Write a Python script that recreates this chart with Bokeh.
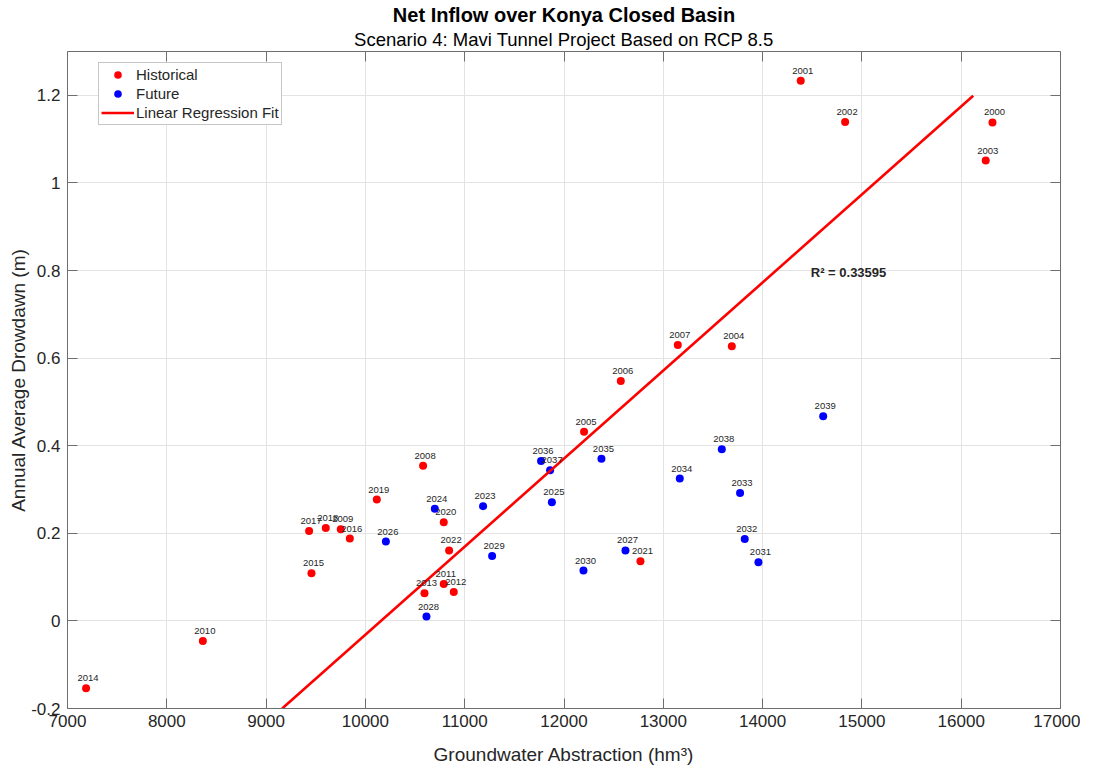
from bokeh.plotting import figure
from bokeh.models import (ColumnDataSource, FixedTicker, CustomJSTickFormatter, LinearAxis,
                          Title, Legend, LegendItem, Range1d, Label)
from bokeh.embed import file_html
from bokeh.resources import INLINE
from bokeh.core.properties import value

# ---------------- data ----------------
hist_years = ["2000", "2001", "2002", "2003", "2004", "2005", "2006", "2007", "2008", "2009",
              "2010", "2011", "2012", "2013", "2014", "2015", "2016", "2017", "2018", "2019",
              "2020", "2021", "2022"]
hist_x = [16315, 14384, 14831, 16247, 13690, 12202, 12572, 13146, 10581, 9752,
          8363, 10789, 10890, 10595, 7187, 9457, 9843, 9433, 9601, 10115,
          10789, 12770, 10843]
hist_y = [1.138, 1.233, 1.139, 1.051, 0.627, 0.432, 0.548, 0.630, 0.354, 0.209,
          -0.046, 0.084, 0.066, 0.063, -0.154, 0.109, 0.188, 0.205, 0.212, 0.277,
          0.225, 0.136, 0.161]

fut_years = ["2023", "2024", "2025", "2026", "2027", "2028", "2029", "2030", "2031", "2032",
             "2033", "2034", "2035", "2036", "2037", "2038", "2039"]
fut_x = [11185, 10699, 11878, 10206, 12619, 10615, 11276, 12196, 13958, 13820,
         13773, 13166, 12377, 11769, 11860, 13589, 14610]
fut_y = [0.262, 0.256, 0.271, 0.181, 0.161, 0.010, 0.148, 0.115, 0.134, 0.187,
         0.292, 0.325, 0.370, 0.365, 0.344, 0.392, 0.467]

fit_x = [9162, 16121]
fit_y = [-0.2, 1.199]

r2_text = "R\u00b2 = 0.33595"
r2_pos = (14485, 0.795)

x_ticks = [7000, 8000, 9000, 10000, 11000, 12000, 13000, 14000, 15000, 16000, 17000]
y_ticks = [-0.2, 0, 0.2, 0.4, 0.6, 0.8, 1, 1.2]

title_main = "Net Inflow over Konya Closed Basin"
title_sub = "Scenario 4: Mavi Tunnel Project Based on RCP 8.5"
x_label = "Groundwater Abstraction (hm\u00b3)"
y_label = "Annual Average Drowdawn (m)"

# ---------------- styling ----------------
FONT = "Liberation Sans"
TXT = "#262626"
AXC = "#6e6e6e"

p = figure(frame_width=993, frame_height=657, output_backend="svg", toolbar_location=None,
           x_range=Range1d(7000, 17000), y_range=Range1d(-0.2, 1.3),
           min_border_left=67, min_border_right=20, min_border_top=51, min_border_bottom=0,
           background_fill_color="white", border_fill_color="white")
p.outline_line_color = None

fmt = CustomJSTickFormatter(code="return tick.toString();")

for ax in (p.xaxis[0], p.yaxis[0]):
    ax.major_label_text_font = FONT
    ax.major_label_text_font_size = "17px"
    ax.major_label_text_color = TXT
    ax.axis_label_text_font = FONT
    ax.axis_label_text_font_size = "19px"
    ax.axis_label_text_font_style = "normal"
    ax.axis_label_text_color = TXT
    ax.axis_line_color = AXC
    ax.major_tick_line_color = AXC
    ax.major_tick_in = 10
    ax.major_tick_out = 0
    ax.minor_tick_line_color = None
    ax.formatter = fmt

p.xaxis[0].ticker = FixedTicker(ticks=x_ticks)
p.yaxis[0].ticker = FixedTicker(ticks=y_ticks)
p.xaxis[0].axis_label = x_label
p.yaxis[0].axis_label = y_label
p.xaxis[0].major_label_standoff = 6
p.xaxis[0].axis_label_standoff = 14
p.yaxis[0].major_label_standoff = 7
p.yaxis[0].axis_label_standoff = -1

for side, tk in (("right", y_ticks), ("above", x_ticks)):
    ax = LinearAxis(ticker=FixedTicker(ticks=tk), formatter=fmt)
    ax.major_label_text_font_size = "0px"
    ax.major_label_standoff = 0
    ax.axis_line_color = AXC
    ax.major_tick_line_color = AXC
    ax.major_tick_in = 10
    ax.major_tick_out = 0
    ax.minor_tick_line_color = None
    p.add_layout(ax, side)

p.xgrid.ticker = FixedTicker(ticks=x_ticks)
p.ygrid.ticker = FixedTicker(ticks=y_ticks)
p.xgrid.grid_line_color = "#e3e3e3"
p.ygrid.grid_line_color = "#e3e3e3"

p.title.text = title_main
p.title.text_font = FONT
p.title.text_font_size = "20px"
p.title.text_font_style = "bold"
p.title.text_color = "black"
p.title.align = "center"
p.title.standoff = 0
p.add_layout(Title(text=title_sub, text_font=FONT, text_font_size="18.5px",
                   text_font_style="normal", text_color="black", align="center",
                   standoff=3), "above")

src_h = ColumnDataSource(dict(x=hist_x, y=hist_y, year=hist_years))
src_f = ColumnDataSource(dict(x=fut_x, y=fut_y, year=fut_years))

r_h = p.scatter("x", "y", source=src_h, size=8, color="#ff0000", line_color=None)
r_f = p.scatter("x", "y", source=src_f, size=8, color="#0000ff", line_color=None)
r_l = p.line(fit_x, fit_y, line_color="#ff0000", line_width=2.6)

for src in (src_h, src_f):
    p.text("x", "y", text="year", source=src, text_font=value(FONT), text_font_size="9.5px",
           text_color=TXT, text_align="center", text_baseline="middle",
           x_offset=2, y_offset=-10)

p.add_layout(Label(x=r2_pos[0], y=r2_pos[1], text=r2_text, text_font=FONT,
                   text_font_size="13px", text_font_style="bold", text_color=TXT,
                   text_align="left", text_baseline="middle"))

legend = Legend(items=[LegendItem(label="Historical", renderers=[r_h]),
                       LegendItem(label="Future", renderers=[r_f]),
                       LegendItem(label="Linear Regression Fit", renderers=[r_l])],
                location=(31, 583), margin=0, padding=2, spacing=0,
                glyph_width=33, glyph_height=19, label_height=19, label_standoff=2,
                label_text_font=FONT, label_text_font_size="15px", label_text_color=TXT,
                border_line_color="#8c8c8c", border_line_width=1,
                background_fill_color="white", background_fill_alpha=1)
p.add_layout(legend)

open("out.html", "w").write(file_html(p, INLINE))
